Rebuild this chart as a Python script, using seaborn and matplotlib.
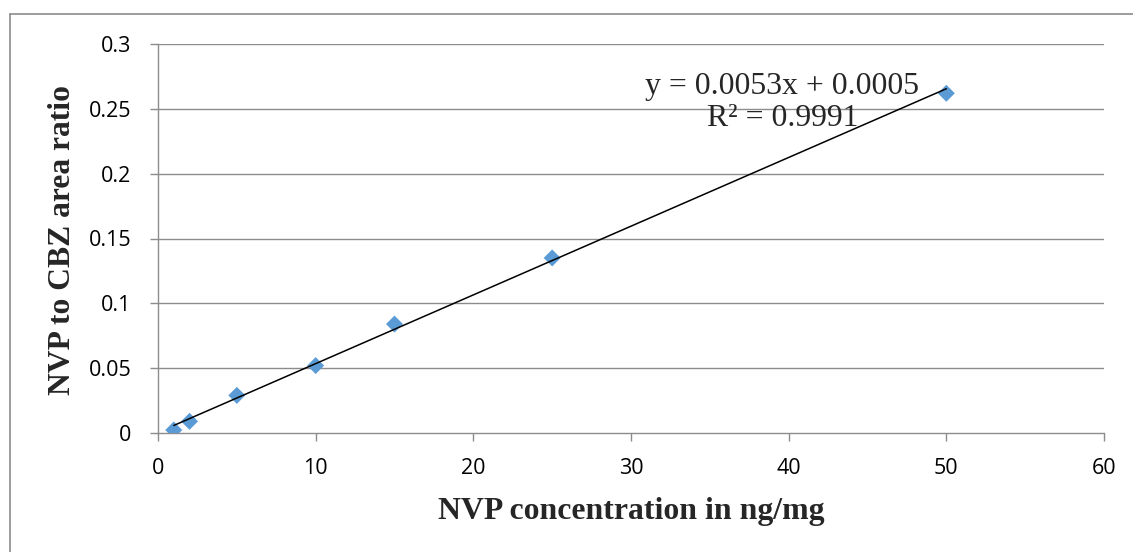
import matplotlib
matplotlib.use("Agg")
import matplotlib.pyplot as plt
import seaborn as sns
import pandas as pd
import numpy as np
from matplotlib.lines import Line2D

concentration = [1, 2, 5, 10, 15, 25, 50]
area_ratio = [0.0023, 0.009, 0.029, 0.052, 0.084, 0.135, 0.262]
slope = 0.0053
intercept = 0.0005
x_ticks = [0, 10, 20, 30, 40, 50, 60]
y_ticks = [0, 0.05, 0.1, 0.15, 0.2, 0.25, 0.3]
y_tick_labels = ["0", "0.05", "0.1", "0.15", "0.2", "0.25", "0.3"]

sns.set_style("white")
plt.rcParams['font.family'] = ['Open Sans', 'DejaVu Sans']

df = pd.DataFrame({"x": concentration, "y": area_ratio})

fig = plt.figure(figsize=(11.33, 5.52), dpi=100)
ax = fig.add_axes([158/1133, 1-433/552, (1104-158)/1133, (433-44)/552])

grid_c = "#8c8c8c"
for yt in y_ticks[1:]:
    ax.axhline(yt, color=grid_c, lw=1.0, zorder=0)

sns.scatterplot(data=df, x="x", y="y", ax=ax, marker="D", s=75,
                color="#5B9BD5", edgecolor="none", zorder=3, legend=False)
xs = np.array([concentration[0], concentration[-1]])
ax.plot(xs, slope*xs + intercept, color="black", lw=1.1, zorder=4)

ax.set_xlim(0, 60)
ax.set_ylim(0, 0.3)
ax.set_xticks(x_ticks)
ax.set_xticklabels([str(t) for t in x_ticks])
ax.set_yticks(y_ticks)
ax.set_yticklabels(y_tick_labels)

for s in ["top", "right"]:
    ax.spines[s].set_visible(False)
for s in ["left", "bottom"]:
    ax.spines[s].set_color(grid_c)
    ax.spines[s].set_linewidth(1.0)
ax.tick_params(axis="both", which="both", direction="out", length=6,
               color=grid_c, width=1.0, labelsize=15.5, labelcolor="black",
               left=True, bottom=True)
ax.tick_params(axis="x", pad=12)
ax.tick_params(axis="y", pad=13)

serif = ['Liberation Serif', 'DejaVu Serif']
ax.set_xlabel("NVP concentration in ng/mg", family=serif, fontsize=22.9,
              fontweight="bold", va="center")
ax.set_ylabel("NVP to CBZ area ratio", family=serif, fontsize=22.7,
              fontweight="bold", va="center")
ax.xaxis.set_label_coords((631.5 - 158) / 946, (433 - 512) / 389)
ax.yaxis.set_label_coords((63 - 158) / 946, (433 - 240) / 389)

ax.text(39.6, 0.267, "y = 0.0053x + 0.0005", family=serif, fontsize=22.9,
        ha="center", va="center", zorder=5)
ax.text(39.6, 0.2425, "R² = 0.9991", family=serif, fontsize=22.9,
        ha="center", va="center", zorder=5)

# outer chart frame (top and left edges visible)
fig.add_artist(Line2D([10/1133, 1], [1-14/552, 1-14/552], color="#8c8c8c",
                      lw=1.2, transform=fig.transFigure))
fig.add_artist(Line2D([10/1133, 10/1133], [0, 1-14/552], color="#8c8c8c",
                      lw=1.2, transform=fig.transFigure))

fig.savefig("out.png", dpi=100)
